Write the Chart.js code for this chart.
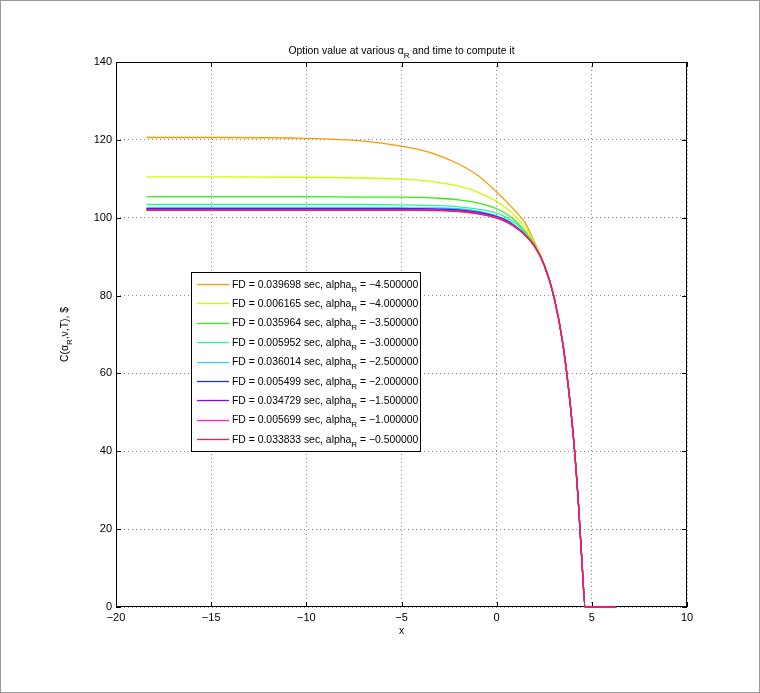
<!DOCTYPE html>
<html>
<head>
<meta charset="utf-8">
<script src="https://cdn.jsdelivr.net/npm/chart.js@4"></script>
<style>
  body { margin: 0; background: #fff; }
  canvas { display: block; }
</style>
</head>
<body>
<canvas id="chart" width="760" height="693"></canvas>
<script>
// x grid the curves were read at
const xs = [-18.4, -15, -10, -7, -5, -4, -3, -2, -1, 0, 0.5, 1, 1.5, 2, 2.5, 3, 3.5, 4, 4.3, 4.5, 4.65, 6.25];

const alphas = [-4.5, -4.0, -3.5, -3.0, -2.5, -2.0, -1.5, -1.0, -0.5];
const times = ['0.039698', '0.006165', '0.035964', '0.005952', '0.036014', '0.005499', '0.034729', '0.005699', '0.033833'];

// option value per alpha_R
const valA45 = [120.6, 120.6, 120.4, 119.7, 118.4, 117.4, 115.9, 113.8, 110.9, 106.6, 104.2, 101.6, 98.6, 93.6, 88.0, 80.0, 66.9, 45.4, 26.3, 10.0, 0, 0];
const valA40 = [110.5, 110.5, 110.4, 110.2, 109.9, 109.6, 109.0, 108.1, 106.6, 104.2, 102.5, 100.3, 97.4, 93.2, 87.9, 79.9, 66.9, 45.4, 26.3, 10.0, 0, 0];
const valA35 = [105.4, 105.4, 105.4, 105.3, 105.3, 105.2, 105.0, 104.6, 103.8, 102.3, 101.0, 99.1, 96.4, 92.9, 87.8, 79.9, 66.9, 45.4, 26.3, 10.0, 0, 0];
const valA30 = [103.4, 103.4, 103.4, 103.4, 103.3, 103.2, 103.1, 102.8, 102.2, 101.2, 100.1, 98.5, 96.0, 92.7, 87.8, 79.9, 66.9, 45.4, 26.3, 10.0, 0, 0];
const valA25 = [102.6, 102.6, 102.6, 102.6, 102.6, 102.5, 102.5, 102.3, 101.7, 100.5, 99.5, 97.9, 95.7, 92.6, 87.8, 79.9, 66.9, 45.4, 26.3, 10.0, 0, 0];
const valA20 = [102.3, 102.3, 102.3, 102.3, 102.3, 102.3, 102.2, 102.0, 101.4, 100.3, 99.3, 97.7, 95.6, 92.6, 87.8, 79.9, 66.9, 45.4, 26.3, 10.0, 0, 0];
const valA15 = [102.1, 102.1, 102.1, 102.1, 102.1, 102.1, 102.0, 101.8, 101.2, 100.1, 99.1, 97.6, 95.5, 92.6, 87.8, 79.9, 66.9, 45.4, 26.3, 10.0, 0, 0];
const valA10 = [102.0, 102.0, 102.0, 102.0, 102.0, 102.0, 101.9, 101.7, 101.1, 100.0, 99.0, 97.5, 95.5, 92.6, 87.8, 79.9, 66.9, 45.4, 26.3, 10.0, 0, 0];
const valA05 = [101.9, 101.9, 101.9, 101.9, 101.9, 101.9, 101.8, 101.6, 101.0, 99.9, 98.9, 97.5, 95.5, 92.6, 87.8, 79.9, 66.9, 45.4, 26.3, 10.0, 0, 0];

const xTicks = [-20, -15, -10, -5, 0, 5, 10];
const yTicks = [0, 20, 40, 60, 80, 100, 120, 140];

const colors = ['#FF9900', '#C8FF00', '#33EE11', '#2EF5A0', '#33CCFF', '#2233DD', '#8800FF', '#FF22CC', '#FF1A4A'];
const allVals = [valA45, valA40, valA35, valA30, valA25, valA20, valA15, valA10, valA05];

const FONT = '"Liberation Sans", Arial, Helvetica, sans-serif';

function fmtNum(v) {
  return String(v).replace('-', '\u2212');
}

// draws a run of text pieces, some of them subscript
function drawRich(ctx, parts, x, y, align, size) {
  const subSize = Math.round(size * 0.8);
  let w = 0;
  parts.forEach(p => {
    ctx.font = (p[1] ? subSize : size) + 'px ' + FONT;
    w += ctx.measureText(p[0]).width;
  });
  let cx = align === 'center' ? x - w / 2 : x;
  ctx.textAlign = 'left';
  ctx.textBaseline = 'alphabetic';
  parts.forEach(p => {
    ctx.font = (p[1] ? subSize : size) + 'px ' + FONT;
    ctx.fillText(p[0], cx, p[1] ? y + 4 : y);
    cx += ctx.measureText(p[0]).width;
  });
}

// last series (alpha -0.5) ends up on top, like the original
const datasets = allVals.map((vals, i) => ({
  label: 'FD = ' + times[i] + ' sec, alpha_R = ' + fmtNum(alphas[i].toFixed(6)),
  data: xs.map((x, j) => ({ x: x, y: vals[j] })),
  borderColor: colors[i],
  backgroundColor: colors[i],
  borderWidth: 1.3,
  pointRadius: 0,
  cubicInterpolationMode: 'monotone',
  order: allVals.length - i,
  clip: 3
}));

const frame = {
  id: 'frame',
  beforeDatasetsDraw(chart) {
    const { ctx, chartArea: a, scales } = chart;
    ctx.save();
    ctx.strokeStyle = '#000';
    ctx.lineWidth = 1;
    ctx.strokeRect(a.left + 0.5, a.top + 0.5, a.right - a.left - 1, a.bottom - a.top - 1);
    ctx.beginPath();
    xTicks.forEach(t => {
      const px = Math.round(scales.x.getPixelForValue(t)) + 0.5;
      ctx.moveTo(px, a.bottom); ctx.lineTo(px, a.bottom - 5);
      ctx.moveTo(px, a.top); ctx.lineTo(px, a.top + 5);
    });
    yTicks.forEach(t => {
      const py = Math.round(scales.y.getPixelForValue(t)) + 0.5;
      ctx.moveTo(a.left, py); ctx.lineTo(a.left + 5, py);
      ctx.moveTo(a.right, py); ctx.lineTo(a.right - 5, py);
    });
    ctx.stroke();
    ctx.restore();
  },
  afterDraw(chart) {
    const { ctx, chartArea: a } = chart;
    ctx.save();
    ctx.fillStyle = '#000';
    // title
    drawRich(ctx, [['Option value at various ', 0], ['\u03b1', 0], ['R', 1], [' and time to compute it', 0]],
      (a.left + a.right) / 2, a.top - 8, 'center', 10.4);
    // x label
    drawRich(ctx, [['x', 0]], (a.left + a.right) / 2, a.bottom + 27, 'center', 10.4);
    // y label
    ctx.translate(68, (a.top + a.bottom) / 2);
    ctx.rotate(-Math.PI / 2);
    drawRich(ctx, [['C(\u03b1', 0], ['R', 1], [',\u03bd,T), $', 0]], 0, 0, 'center', 10.4);
    ctx.restore();

    // legend
    ctx.save();
    const lx = 191, ly = 272, lw = 229, lh = 179;
    ctx.fillStyle = '#fff';
    ctx.fillRect(lx, ly, lw, lh);
    ctx.strokeStyle = '#000';
    ctx.lineWidth = 1;
    ctx.strokeRect(lx + 0.5, ly + 0.5, lw, lh);
    chart.data.datasets.forEach((ds, i) => {
      const cy = 284 + i * 19.4;
      ctx.strokeStyle = ds.borderColor;
      ctx.lineWidth = 1.3;
      ctx.beginPath();
      ctx.moveTo(197, Math.round(cy) + 0.5);
      ctx.lineTo(229, Math.round(cy) + 0.5);
      ctx.stroke();
      ctx.fillStyle = '#000';
      drawRich(ctx, [['FD = ' + times[i] + ' sec, alpha', 0], ['R', 1], [' = ' + fmtNum(alphas[i].toFixed(6)), 0]],
        232, cy + 3.5, 'left', 10.4);
    });
    // outer figure frame
    ctx.strokeStyle = '#999';
    ctx.lineWidth = 1;
    ctx.strokeRect(0.5, 0.5, chart.width - 1, chart.height - 1);
    ctx.restore();
  }
};

new Chart(document.getElementById('chart'), {
  type: 'line',
  data: { datasets: datasets },
  options: {
    responsive: false,
    animation: false,
    devicePixelRatio: 1,
    layout: { padding: { top: 62, right: 73, left: 0, bottom: 0 } },
    plugins: { legend: { display: false }, title: { display: false }, tooltip: { enabled: false } },
    scales: {
      x: {
        type: 'linear',
        min: -20, max: 10,
        afterBuildTicks: s => { s.ticks = xTicks.map(v => ({ value: v })); },
        afterFit: s => { s.height = 86; },
        grid: { color: '#888', drawTicks: false },
        border: { display: false, dash: [1, 3] },
        ticks: {
          padding: 4, color: '#000', font: { family: FONT, size: 11 },
          callback: v => fmtNum(v)
        }
      },
      y: {
        type: 'linear',
        min: 0, max: 140,
        afterBuildTicks: s => { s.ticks = yTicks.map(v => ({ value: v })); },
        afterFit: s => { s.width = 116; },
        grid: { color: '#888', drawTicks: false },
        border: { display: false, dash: [1, 3] },
        ticks: {
          padding: 4, color: '#000', font: { family: FONT, size: 11 },
          callback: v => fmtNum(v)
        }
      }
    }
  },
  plugins: [frame]
});
</script>
</body>
</html>
